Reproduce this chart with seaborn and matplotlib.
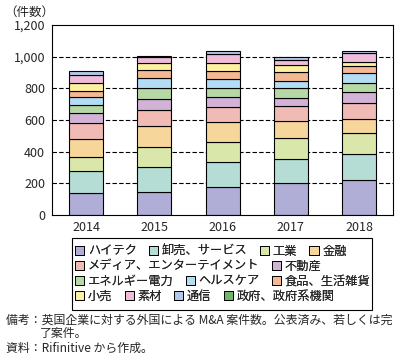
import pandas as pd
import numpy as np
import matplotlib.pyplot as plt
import seaborn as sns
from matplotlib.patches import Patch, Rectangle

sns.set_theme(style="white")
plt.rcParams['font.family'] = ['Noto Sans CJK JP', 'DejaVu Sans']

years = ['2014', '2015', '2016', '2017', '2018']
sectors = ['ハイテク', '卸売、サービス', '工業', '金融',
           'メディア、エンターテイメント', '不動産',
           'エネルギー電力', 'ヘルスケア', '食品、生活雑貨',
           '小売', '素材', '通信', '政府、政府系機関']
colors = ['#b0aed6', '#b5ddd5', '#d9e7aa', '#f6d69a',
          '#f0bab5', '#d2b2d7', '#b5d8a5', '#b3dcf5', '#f4b893',
          '#fdf1a0', '#efbcd9', '#b3c7e6', '#6fba6a']

hitech     = [141, 147, 179, 200, 219]
wholesale  = [139, 154, 158, 156, 170]
industry   = [88, 131, 126, 128, 127]
finance    = [110, 132, 126, 112, 94]
media      = [101, 103, 95, 94, 99]
realestate = [67, 68, 59, 51, 70]
energy     = [47, 65, 57, 63, 57]
health     = [54, 69, 57, 46, 59]
food       = [40, 45, 54, 51, 44]
retail     = [49, 44, 47, 44, 31]
materials  = [52, 38, 59, 36, 51]
telecom    = [21, 12, 17, 19, 13]
government = [0, 0, 0, 0, 0]

df = pd.DataFrame(dict(zip(sectors, [hitech, wholesale, industry, finance, media,
                                     realestate, energy, health, food, retail,
                                     materials, telecom, government])), index=years)

fig = plt.figure(figsize=(4.1, 3.64), dpi=100)
ax = fig.add_axes([0.127, 0.409, 0.832, 0.522])

df.plot(kind='bar', stacked=True, color=colors, width=0.5, edgecolor='black',
        linewidth=0.8, ax=ax, legend=False, rot=0, zorder=3)

ax.set_ylim(0, 1200)
ax.set_xlim(-0.5, 4.5)
ax.set_yticks(range(0, 1201, 200))
ax.set_yticklabels([f"{v:,}" for v in range(0, 1201, 200)], fontsize=9)
ax.set_xticklabels(years, fontsize=9)
for y in range(200, 1001, 200):
    ax.axhline(y, color='black', linestyle=(0, (4, 2)), linewidth=0.8, zorder=1)
ax.tick_params(axis='x', length=0, pad=4)
ax.set_xticks(np.arange(0.5, 4, 1), minor=True)
ax.tick_params(axis='x', which='minor', direction='in', length=4, width=0.8, color='black')
ax.tick_params(axis='y', direction='out', length=3, width=0.8, color='black', pad=2)
for s in ax.spines.values():
    s.set_color('black')
    s.set_linewidth(0.8)
ax.set_xlabel('')
ax.text(-0.14, 1.035, '（件数）', transform=ax.transAxes, fontsize=9, va='bottom', ha='left')

# legend rows (flow layout)
rows = [[0, 1, 2, 3], [4, 5], [6, 7, 8], [9, 10, 11, 12]]
row_y = [251, 266, 281, 296]
for r, yy in zip(rows, row_y):
    handles = [Patch(facecolor=colors[i], edgecolor='black', linewidth=0.7, label=sectors[i]) for i in r]
    leg = fig.legend(handles=handles, loc='center left', bbox_to_anchor=(75 / 410, 1 - yy / 364),
                     ncol=len(r), frameon=False, fontsize=8.8, handlelength=0.75, handleheight=0.75,
                     handletextpad=0.3, columnspacing=1.0, borderpad=0, borderaxespad=0)
    fig.add_artist(leg)
fig.add_artist(Rectangle((72 / 410, 1 - 310 / 364), 300 / 410, 72 / 364, transform=fig.transFigure,
                         fill=False, edgecolor='black', linewidth=0.8))

fig.text(6 / 410, 1 - 320 / 364, '備考：英国企業に対する外国による M&A 案件数。公表済み、若しくは完',
         fontsize=8.6, va='center', ha='left')
fig.text(40 / 410, 1 - 334 / 364, '了案件。', fontsize=8.6, va='center', ha='left')
fig.text(6 / 410, 1 - 348 / 364, '資料：Rifinitive から作成。', fontsize=8.6, va='center', ha='left')

fig.savefig('out.png', dpi=100)
